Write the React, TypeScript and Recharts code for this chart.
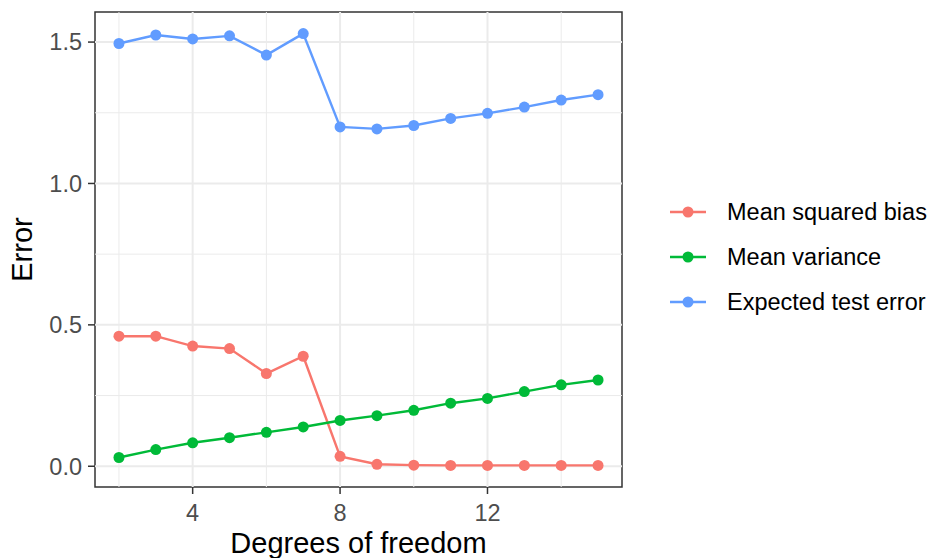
import React from 'react';
import { LineChart, Line, XAxis, YAxis, ReferenceLine, ReferenceArea, Label } from 'recharts';

// Degrees of freedom of the fitted spline
const degreesOfFreedom = [2, 3, 4, 5, 6, 7, 8, 9, 10, 11, 12, 13, 14, 15];

// Error components per model complexity
const meanSquaredBias = [0.46, 0.46, 0.425, 0.416, 0.328, 0.389, 0.035, 0.007, 0.004, 0.003, 0.003, 0.003, 0.003, 0.003];
const meanVariance = [0.031, 0.059, 0.083, 0.101, 0.12, 0.139, 0.162, 0.179, 0.198, 0.223, 0.24, 0.264, 0.288, 0.305];
const expectedTestError = [1.495, 1.525, 1.511, 1.522, 1.454, 1.53, 1.2, 1.193, 1.205, 1.23, 1.248, 1.27, 1.295, 1.314];

// Axis breaks
const xMajor = [4, 8, 12];
const xMinor = [2, 6, 10, 14];
const yMajor = [0, 0.5, 1, 1.5];
const yMinor = [0.25, 0.75, 1.25];

const seriesNames = ['Mean squared bias', 'Mean variance', 'Expected test error'];
const seriesKeys = ['bias', 'variance', 'expected'];
const seriesColors = ['#F8766D', '#00BA38', '#619CFF'];

const data = degreesOfFreedom.map((df, i) => ({
  df,
  bias: meanSquaredBias[i],
  variance: meanVariance[i],
  expected: expectedTestError[i],
}));

// ggplot-style 5% expansion of the data range
const expand = (lo: number, hi: number): [number, number] => {
  const pad = (hi - lo) * 0.05;
  return [lo - pad, hi + pad];
};
const allValues = [...meanSquaredBias, ...meanVariance, ...expectedTestError];
const xDomain = expand(Math.min(...degreesOfFreedom), Math.max(...degreesOfFreedom));
const yDomain = expand(Math.min(...allValues), Math.max(...allValues));

const FONT = '"Liberation Sans", Arial, Helvetica, sans-serif';
const GRID = '#EBEBEB';
const INK = '#333333';

const YTitle = (props: any) => {
  const vb = props.viewBox;
  const x = vb.x + 32;
  const y = vb.y + vb.height / 2;
  return (
    <text x={x} y={y} transform={`rotate(-90 ${x} ${y})`} textAnchor="middle"
      fontFamily={FONT} fontSize={29} fill="#000000">
      Error
    </text>
  );
};

const XTitle = (props: any) => {
  const vb = props.viewBox;
  return (
    <text x={vb.x + vb.width / 2} y={vb.y + 66} textAnchor="middle"
      fontFamily={FONT} fontSize={29} fill="#000000">
      Degrees of freedom
    </text>
  );
};

const LegendBox = () => (
  <svg width={280} height={140} style={{ position: 'absolute', left: 653, top: 180 }}>
    {seriesNames.map((name, i) => {
      const cy = 32 + i * 45;
      return (
        <g key={name}>
          <line x1={17} x2={53} y1={cy} y2={cy} stroke={seriesColors[i]} strokeWidth={2.4} />
          <circle cx={35} cy={cy} r={5.5} fill={seriesColors[i]} />
          <text x={74} y={cy} dy="0.36em" fontFamily={FONT} fontSize={23.5} fill="#000000">
            {name}
          </text>
        </g>
      );
    })}
  </svg>
);

export default function App() {
  return (
    <div style={{ position: 'absolute', left: 0, top: 0, width: 933, height: 558, background: '#ffffff' }}>
      <LineChart width={933} height={558} data={data}
        margin={{ top: 12, right: 311, bottom: 0, left: 0 }}>
        <XAxis dataKey="df" type="number" domain={xDomain} ticks={xMajor}
          allowDataOverflow height={71} axisLine={false}
          tickLine={{ stroke: INK, strokeWidth: 1.5 }} tickSize={7} tickMargin={10}
          tick={{ fill: '#4D4D4D', fontSize: 23.5, fontFamily: FONT }}>
          <Label content={<XTitle />} />
        </XAxis>
        <YAxis type="number" domain={yDomain} ticks={yMajor} allowDataOverflow
          width={95} axisLine={false}
          tickLine={{ stroke: INK, strokeWidth: 1.5 }} tickSize={7} tickMargin={6}
          tickFormatter={(v: number) => v.toFixed(1)}
          tick={{ fill: '#4D4D4D', fontSize: 23.5, fontFamily: FONT }}>
          <Label content={<YTitle />} />
        </YAxis>

        {xMinor.map((v) => (
          <ReferenceLine key={`xm${v}`} x={v} stroke={GRID} strokeWidth={1} />
        ))}
        {yMinor.map((v) => (
          <ReferenceLine key={`ym${v}`} y={v} stroke={GRID} strokeWidth={1} />
        ))}
        {xMajor.map((v) => (
          <ReferenceLine key={`xM${v}`} x={v} stroke={GRID} strokeWidth={2} />
        ))}
        {yMajor.map((v) => (
          <ReferenceLine key={`yM${v}`} y={v} stroke={GRID} strokeWidth={2} />
        ))}

        {seriesKeys.map((k, i) => (
          <Line key={k} dataKey={k} name={seriesNames[i]} type="linear"
            stroke={seriesColors[i]} strokeWidth={2.4}
            dot={{ r: 5.5, fill: seriesColors[i], stroke: 'none' }}
            activeDot={false} isAnimationActive={false} />
        ))}

        <ReferenceArea x1={xDomain[0]} x2={xDomain[1]} y1={yDomain[0]} y2={yDomain[1]}
          fill="none" fillOpacity={0} stroke={INK} strokeWidth={1.5} />
      </LineChart>
      <LegendBox />
    </div>
  );
}
